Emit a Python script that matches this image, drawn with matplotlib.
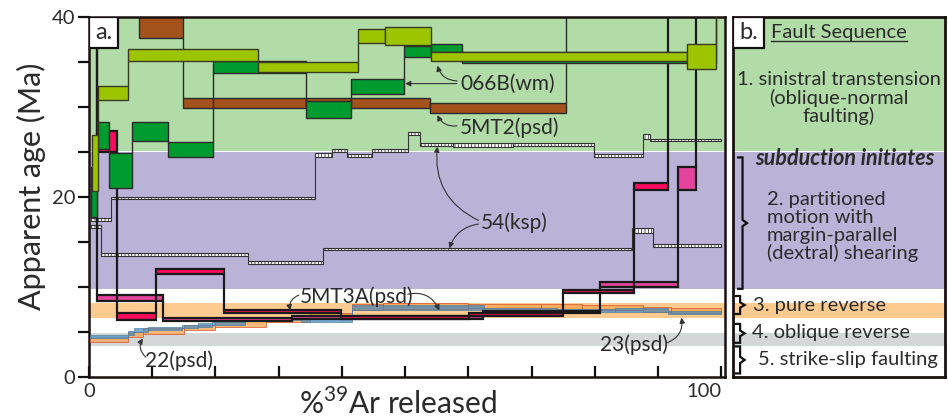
import numpy as np
import matplotlib.pyplot as plt
from matplotlib.patches import Rectangle

# -------------------------------------------------------
# Style
# -------------------------------------------------------
plt.rcParams['font.family'] = ['Lato', 'DejaVu Sans']
plt.rcParams['hatch.linewidth'] = 0.6
plt.rcParams['hatch.color'] = '#222222'
TXT = '#2b2b2b'

# -------------------------------------------------------
# Background domains (Ma)
# -------------------------------------------------------
band_lo = [25.1, 9.8, 6.6, 3.4]
band_hi = [40.0, 24.95, 8.2, 4.9]
band_colors = ['#b2dca7', '#bbb2d8', '#fdcb90', '#d4d7d8']

# -------------------------------------------------------
# Step-heating spectra: cumulative %39Ar edges, age, half-width (Ma)
# (45 Ma = step off the top of the plot)
# -------------------------------------------------------
yg_edges = [0.4, 1.4, 6.2, 26.7, 42.6, 46.8, 54.1, 94.6, 99.1, 100]
yg_age = [23.8, 31.55, 35.75, 34.45, 37.9, 37.9, 35.6, 35.6, 45]
yg_err = [3.1, 0.75, 0.65, 0.55, 0.8, 1.0, 0.5, 1.4, 1]

dg_edges = [0.3, 1.3, 3.2, 6.8, 12.5, 19.6, 34.3, 41.5, 49.8, 54.1, 59.0, 99.1, 100]
dg_age = [20.55, 26.8, 22.95, 27.25, 25.25, 34.45, 29.75, 32.25, 36.2, 36.55, 35.5, 45]
dg_err = [2.75, 1.5, 1.95, 1.05, 0.85, 0.65, 0.95, 0.85, 0.6, 0.45, 0.6, 1]

br_edges = [0, 7.9, 14.9, 34.3, 41.5, 54.0, 75.5, 100]
br_age = [45, 40.0, 30.45, 30.45, 30.45, 29.85, 45]
br_err = [1, 2.3, 0.55, 0.55, 0.55, 0.55, 1]

cr_edges = [0, 1.3, 4.4, 10.6, 21.4, 39.9, 60.1, 75.0, 86.2, 91.6, 100]
cr_age = [45, 26.15, 6.7, 11.7, 7.25, 6.6, 6.95, 9.5, 21.2, 45]
cr_err = [1, 1.15, 0.4, 0.3, 0.15, 0.2, 0.15, 0.2, 0.4, 1]

mg_edges = [0, 1.3, 11.7, 32.1, 62.3, 80.9, 93.2, 96.0, 100]
mg_age = [45, 8.75, 6.4, 6.6, 7.2, 10.3, 22.05, 45]
mg_err = [1, 0.35, 0.2, 0.2, 0.12, 0.3, 1.25, 1]

ks1_edges = [0.2, 3.5, 35.8, 38.4, 40.8, 44.8, 50.5, 52.4, 57.6, 67.1, 79.9, 87.7, 88.8, 100]
ks1_age = [17.45, 19.9, 24.65, 25.15, 24.6, 25.15, 27.05, 25.85, 25.8, 25.85, 24.6, 26.75, 26.3]
ks1_err = [0.17, 0.12, 0.2, 0.15, 0.2, 0.15, 0.17, 0.15, 0.2, 0.15, 0.2, 0.3, 0.12]

ks2_edges = [0.2, 1.9, 25.2, 37.0, 85.9, 89.2, 100]
ks2_age = [16.75, 13.6, 12.75, 14.2, 16.3, 14.6]
ks2_err = [0.17, 0.2, 0.17, 0.12, 0.3, 0.17]

p22_edges = [0.2, 6.2, 7.1, 9.4, 14.7, 17.2, 19.5, 24.7, 33.5, 41.6, 62.5, 74.1, 83.2, 91.6, 100]
p22_age = [4.5, 4.9, 5.2, 5.4, 5.6, 5.8, 5.95, 6.5, 6.4, 7.7, 7.45, 7.4, 7.45, 7.15]
p22_err = [0.2, 0.25, 0.2, 0.2, 0.2, 0.2, 0.2, 0.2, 0.25, 0.3, 0.25, 0.2, 0.2, 0.2]

p23_edges = [0.2, 6.2, 8.5, 15.0, 20.0, 28.0, 35.0, 41.6, 46.5, 60.0, 71.5, 78.0, 87.7, 92.0, 100]
p23_age = [4.1, 4.7, 5.1, 5.5, 5.9, 6.4, 6.8, 7.8, 7.9, 7.9, 7.8, 7.7, 7.5, 7.4]
p23_err = [0.25, 0.3, 0.3, 0.3, 0.3, 0.3, 0.3, 0.3, 0.3, 0.25, 0.3, 0.3, 0.3, 0.3]

# -------------------------------------------------------
# Axis ticks
# -------------------------------------------------------
y_ticks = [0, 5, 10, 15, 20, 25, 30, 35, 40]
y_tick_labels = ['0', '', '', '', '20', '', '', '', '40']
x_ticks = [0, 10, 20, 30, 40, 50, 60, 70, 80, 90, 100]
x_tick_labels = ['0', '', '', '', '', '', '', '', '', '', '100']

# -------------------------------------------------------
# Fault sequence panel
# -------------------------------------------------------
stage_texts = ['1. sinistral transtension\n(oblique-normal\nfaulting)',
               '2. partitioned\nmotion with\nmargin-parallel\n(dextral) shearing',
               '3. pure reverse', '4. oblique reverse', '5. strike-slip faulting']


def spectrum(ax, edges, ages, errs, fc, ec='#2a2a2a', lw=1.0, z=3,
             hatch=None, alpha=1.0):
    edges = np.asarray(edges, float)
    ages = np.asarray(ages, float)
    errs = np.asarray(errs, float)
    lo = ages - errs
    hi = ages + errs
    ax.bar(edges[:-1], hi - lo, width=np.diff(edges), bottom=lo,
           align='edge', color=fc, edgecolor=ec, linewidth=lw,
           hatch=hatch, alpha=alpha, zorder=z)
    for i in range(len(ages) - 1):
        if ages[i + 1] > ages[i]:
            y0, y1 = hi[i], lo[i + 1]
        else:
            y0, y1 = hi[i + 1], lo[i]
        if y1 > y0:
            ax.vlines(edges[i + 1], y0, y1, color=ec, lw=lw, zorder=z - 0.05)


def brace(ax, x0, x1, ylo, yhi):
    ym = (ylo + yhi) / 2
    xs = (x0 + x1) / 2
    dy = min(0.35, (yhi - ylo) * 0.15)
    ax.plot([x0, xs, xs, x1, xs, xs, x0],
            [yhi, yhi, ym + dy, ym, ym - dy, ylo, ylo],
            color='#111111', lw=1.6, solid_joinstyle='miter', zorder=5)


fig = plt.figure(figsize=(9.48, 4.19), dpi=100)
ax = fig.add_axes([0.0939, 0.1002, 0.6709, 0.8592])
axb = fig.add_axes([0.7732, 0.1002, 0.2236, 0.8592])

for lo, hi, c in zip(band_lo, band_hi, band_colors):
    ax.axhspan(lo, hi, color=c, lw=0, zorder=0)
    axb.axhspan(lo, hi, color=c, lw=0, zorder=0)

# spectra
spectrum(ax, br_edges, br_age, br_err, '#a2521a', z=2)
spectrum(ax, ks2_edges, ks2_age, ks2_err, 'white', ec='#333333', lw=0.8, z=2.5, hatch='|||||')
spectrum(ax, ks1_edges, ks1_age, ks1_err, 'white', ec='#333333', lw=0.8, z=2.6, hatch='|||||')
spectrum(ax, p23_edges, p23_age, p23_err, '#f5a24a', ec='#d9552f', lw=0.7, z=3, alpha=0.75)
spectrum(ax, p22_edges, p22_age, p22_err, '#3f86c2', ec='#4f7f9f', lw=0.7, z=3.2, alpha=0.7)
spectrum(ax, mg_edges, mg_age, mg_err, '#e4449c', ec='#1a1a1a', lw=1.6, z=4)
spectrum(ax, cr_edges, cr_age, cr_err, '#fb0b5d', ec='#1a1a1a', lw=1.6, z=4.2)
spectrum(ax, dg_edges, dg_age, dg_err, '#009b30', ec='#2a2a2a', lw=1.0, z=5)
spectrum(ax, yg_edges, yg_age, yg_err, '#9cc500', ec='#3a3a20', lw=1.0, z=5.5)

ax.set_xlim(0, 100.6)
ax.set_ylim(0, 40)
ax.set_yticks(y_ticks)
ax.set_yticklabels(y_tick_labels)
ax.set_xticks(x_ticks)
ax.set_xticklabels(x_tick_labels)
ax.get_xticklabels()[-1].set_horizontalalignment('right')
ax.tick_params(axis='y', direction='out', length=8, width=1.6,
               labelsize=14.5, colors='#111111', labelcolor=TXT, pad=2)
ax.tick_params(axis='x', direction='in', length=8, width=1.6,
               labelsize=14.5, colors='#111111', labelcolor=TXT, pad=4)
for s in ax.spines.values():
    s.set_linewidth(1.8)
    s.set_color('#1a1010')
ax.set_ylabel('Apparent age (Ma)', fontsize=22, color=TXT)
ax.yaxis.set_label_coords(-0.068, 0.53)
ax.set_xlabel(r'%$^{\mathregular{39}}$Ar released', fontsize=21.5, color=TXT)
ax.xaxis.set_label_coords(0.486, -0.03)

# panel label a.
ax.add_patch(Rectangle((0, 0.914), 0.046, 0.086, transform=ax.transAxes,
                       facecolor='white', edgecolor='#111111', lw=1.6, zorder=8))
ax.text(0.023, 0.957, 'a.', transform=ax.transAxes, ha='center', va='center',
        fontsize=17, color=TXT, zorder=9)

# annotations
akw = dict(arrowstyle='-|>', color='#333333', lw=0.8, mutation_scale=8,
           shrinkA=0, shrinkB=0)
fs = 15
ax.text(58.7, 32.6, '066B(wm)', fontsize=fs, color=TXT, va='center', zorder=9)
ax.annotate('', xy=(55.1, 34.6), xytext=(58.2, 32.9),
            arrowprops=dict(akw, connectionstyle='arc3,rad=-0.35'), zorder=9)
ax.annotate('', xy=(50.0, 32.6), xytext=(58.2, 32.6),
            arrowprops=dict(akw), zorder=9)
ax.text(58.7, 27.7, '5MT2(psd)', fontsize=fs, color=TXT, va='center', zorder=9)
ax.annotate('', xy=(55.1, 29.1), xytext=(58.2, 27.9),
            arrowprops=dict(akw, connectionstyle='arc3,rad=-0.35'), zorder=9)
ax.text(62.0, 17.2, '54(ksp)', fontsize=fs, color=TXT, va='center', zorder=9)
ax.annotate('', xy=(55.1, 25.6), xytext=(61.6, 17.4),
            arrowprops=dict(akw, connectionstyle='arc3,rad=-0.35'), zorder=9)
ax.annotate('', xy=(57.0, 14.3), xytext=(61.6, 17.0),
            arrowprops=dict(akw, connectionstyle='arc3,rad=0.3'), zorder=9)
ax.text(33.4, 8.9, '5MT3A(psd)', fontsize=fs, color=TXT, va='center', zorder=9)
ax.annotate('', xy=(31.8, 7.4), xytext=(33.2, 9.1),
            arrowprops=dict(akw, connectionstyle='arc3,rad=0.4'), zorder=9)
ax.annotate('', xy=(55.4, 7.4), xytext=(50.4, 9.2),
            arrowprops=dict(akw, connectionstyle='arc3,rad=-0.4'), zorder=9)
ax.text(8.9, 1.8, '22(psd)', fontsize=fs, color=TXT, va='center', zorder=9)
ax.annotate('', xy=(8.5, 4.3), xytext=(9.0, 2.2),
            arrowprops=dict(akw, connectionstyle='arc3,rad=-0.4'), zorder=9)
ax.text(80.9, 3.6, '23(psd)', fontsize=fs, color=TXT, va='center', zorder=9)
ax.annotate('', xy=(93.7, 6.6), xytext=(91.4, 3.8),
            arrowprops=dict(akw, connectionstyle='arc3,rad=0.4'), zorder=9)

# -------------------------------------------------------
# Panel b
# -------------------------------------------------------
axb.set_xlim(0, 1)
axb.set_ylim(0, 40)
axb.set_xticks([])
axb.set_yticks([])
for s in axb.spines.values():
    s.set_linewidth(2.0)
    s.set_color('#1a1010')

axb.add_patch(Rectangle((0, 0.914), 0.146, 0.086, transform=axb.transAxes,
                        facecolor='white', edgecolor='#111111', lw=1.6, zorder=8))
axb.text(0.073, 0.957, 'b.', transform=axb.transAxes, ha='center', va='center',
         fontsize=17, color=TXT, zorder=9)

fs_b = 14.5
title = axb.text(0.179, 37.7, 'Fault Sequence', fontsize=fs_b, color=TXT,
                 va='baseline', ha='left')
axb.text(0.5, 31.0, stage_texts[0], fontsize=fs_b, color=TXT, ha='center',
         va='center', linespacing=1.05)
axb.text(0.528, 24.3, 'subduction initiates', fontsize=15.5, color=TXT,
         ha='center', va='center', fontweight='bold', fontstyle='italic')
axb.text(0.16, 16.7, stage_texts[1], fontsize=fs_b, color=TXT, ha='left',
         va='center', linespacing=1.05)
axb.text(0.094, 8.0, stage_texts[2], fontsize=fs_b, color=TXT, ha='left', va='center')
axb.text(0.09, 4.9, stage_texts[3], fontsize=fs_b, color=TXT, ha='left', va='center')
axb.text(0.118, 1.9, stage_texts[4], fontsize=fs_b, color=TXT, ha='left', va='center')

brace(axb, 0.024, 0.066, 9.8, 24.4)
brace(axb, 0.012, 0.055, 7.0, 9.0)
brace(axb, 0.012, 0.055, 3.8, 5.9)
brace(axb, 0.012, 0.055, 0.4, 3.4)

# underline of the title
fig.canvas.draw()
bb = title.get_window_extent().transformed(axb.transData.inverted())
axb.plot([bb.x0, bb.x1], [37.3, 37.3], color=TXT, lw=1.0)

fig.savefig('out.png', dpi=100)
